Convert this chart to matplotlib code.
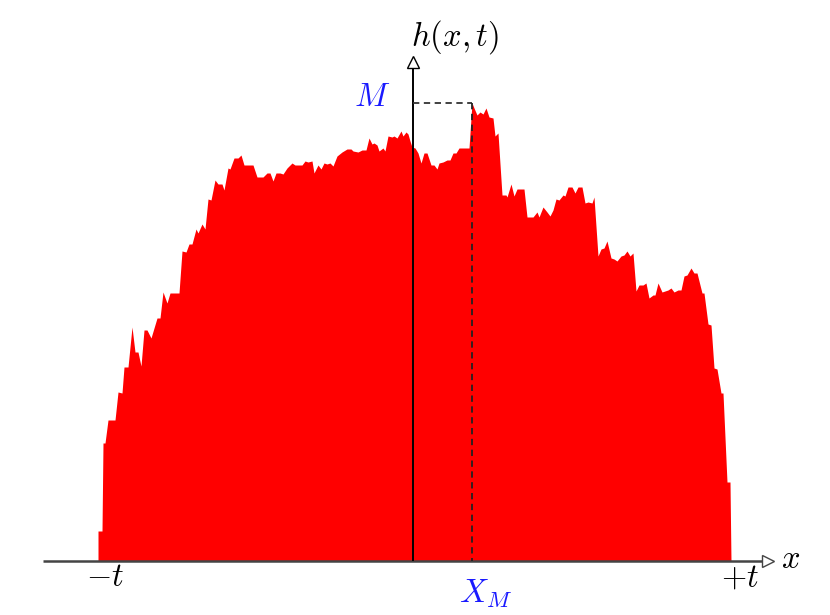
import matplotlib
matplotlib.use("Agg")
import matplotlib.pyplot as plt
import numpy as np

plt.rcParams['mathtext.fontset'] = 'cm'

# profile of the interface h(x,t) (lattice units, t = 316)
x_vals = [-315, -315, -311, -310, -308, -305, -298, -295, -291, -289, -285, -281, -278, -275,
          -272, -269, -266, -262, -256, -253, -250, -246, -243, -234, -231, -227, -224, -221,
          -217, -215, -211, -208, -205, -202, -198, -195, -191, -189, -185, -183, -179, -175,
          -172, -169, -160, -156, -150, -146, -143, -140, -137, -133, -130, -126, -121, -118,
          -111, -108, -105, -101, -99, -95, -92, -89, -86, -83, -80, -76, -71, -66, -62, -60,
          -55, -51, -47, -44, -41, -39, -36, -34, -30, -28, -25, -21, -19, -16, -12, -10, -7,
          -5, -3, -1, 2, 5, 8, 11, 14, 18, 21, 24, 26, 30, 34, 37, 40, 43, 46, 56, 59, 61, 64,
          67, 70, 73, 76, 80, 82, 85, 89, 93, 94, 98, 101, 104, 111, 114, 120, 124, 126, 130,
          134, 137, 140, 143, 146, 150, 152, 155, 159, 162, 165, 169, 172, 175, 179, 181, 185,
          188, 191, 194, 198, 201, 204, 208, 211, 214, 217, 220, 223, 226, 230, 233, 236, 240,
          242, 245, 249, 252, 255, 258, 261, 265, 268, 271, 274, 278, 281, 284, 289, 291, 295,
          298, 301, 304, 308, 310, 314, 317, 318]
h_vals = [0, 30, 30, 118, 118, 141, 141, 169, 168, 194, 194, 234, 209, 209,
          195, 231, 231, 223, 243, 243, 269, 258, 268, 268, 310, 309, 317, 317,
          332, 328, 337, 332, 362, 361, 381, 377, 377, 371, 393, 392, 403, 403,
          406, 396, 396, 384, 384, 388, 388, 380, 388, 388, 387, 393, 398, 396,
          396, 400, 399, 400, 388, 396, 392, 398, 397, 398, 395, 405, 409, 412, 412, 410,
          409, 411, 411, 423, 417, 418, 416, 410, 413, 410, 425, 424, 425, 423, 430, 425, 429,
          427, 420, 414, 413, 408, 398, 408, 408, 396, 396, 392, 398, 399, 401, 401, 408, 408, 413, 413, 458, 453, 446,
          449, 447, 453, 444, 443, 425, 428, 366, 366, 364, 377, 365, 372, 372, 344, 344, 349, 344, 354,
          349, 345, 351, 362, 361, 366, 365, 374, 374, 368, 374, 374, 358, 359, 358, 364, 305,
          312, 313, 320, 303, 302, 300, 305, 306, 310, 305, 308, 270, 276, 276, 278, 263, 266,
          266, 278, 269, 270, 271, 273, 269, 271, 271, 285, 286, 293, 288, 288, 268, 268, 237,
          236, 193, 192, 168, 168, 79, 79, 0]

t_half = 316
x_max = 59
h_max = 458

fig = plt.figure(figsize=(8.3, 6.15), dpi=100)
ax = fig.add_axes([0, 0, 1, 1])
ax.set_xlim(-413, 417)
ax.set_ylim(-54, 561)
ax.axis('off')

ax.fill_between(x_vals, 0, h_vals, color='#ff0000', linewidth=0, zorder=1)

fs = 23.5
# x axis
ax.plot([-370, 352], [0, 0], color='#444444', lw=1.8, zorder=3, solid_capstyle='butt')
ax.plot([355], [0], marker='>', ms=9, mfc='white', mec='#444444', mew=1.0, zorder=4)
ax.text(368, 3, r'$x$', fontsize=fs, ha='left', va='center', zorder=5)

# y axis
ax.plot([0, 0], [0, 494], color='black', lw=1.4, zorder=3, solid_capstyle='butt')
ax.plot([0], [499], marker='^', ms=9, mfc='white', mec='black', mew=1.0, zorder=4)
ax.text(-2, 505, r'$h(x,t)$', fontsize=fs, ha='left', va='bottom', zorder=5)

# maximum markers
ax.plot([0, x_max], [h_max, h_max], color='#333333', lw=1.3, ls=(0, (3.5, 2.5)), zorder=3)
ax.plot([x_max, x_max], [h_max, 0], color='#222222', lw=1.3, ls=(0, (3.5, 2.5)), zorder=3)
ax.text(-41, 464, r'$M$', fontsize=fs, color='#1a1aff', ha='center', va='center', zorder=5)
ax.text(x_max + 13, -32, r'$X_M$', fontsize=fs, color='#1a1aff', ha='center', va='center', zorder=5)

ax.text(-t_half + 8, -16, r'$-t$', fontsize=fs, ha='center', va='center', zorder=5)
ax.text(t_half + 11, -16, r'$+t$', fontsize=fs, ha='center', va='center', zorder=5)

fig.savefig('out.png', dpi=100)
